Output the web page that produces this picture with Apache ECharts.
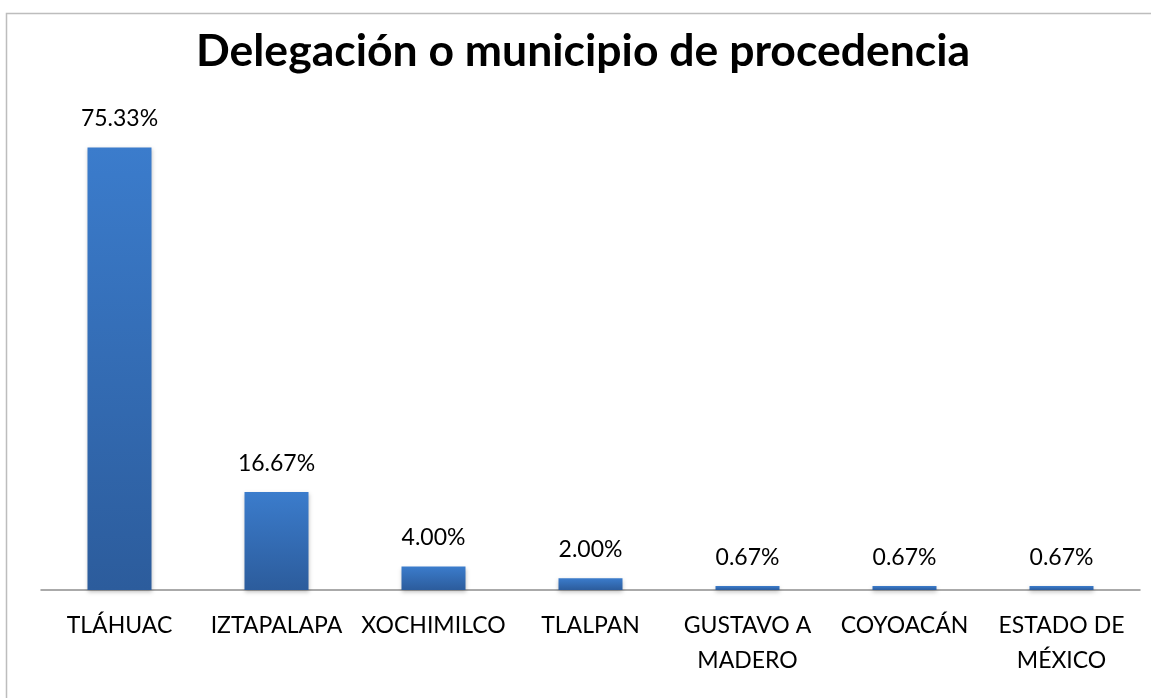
<!DOCTYPE html>
<html>
<head>
<meta charset="utf-8">
<script src="https://cdn.jsdelivr.net/npm/echarts@6/dist/echarts.min.js"></script>
<style>
  html, body { margin: 0; padding: 0; background: #fff; }
  #chart { width: 1151px; height: 698px; }
</style>
</head>
<body>
<div id="chart"></div>
<script>
const categories = ["TLÁHUAC", "IZTAPALAPA", "XOCHIMILCO", "TLALPAN", "GUSTAVO A\nMADERO", "COYOACÁN", "ESTADO DE\nMÉXICO"]
const percentages = [75.33, 16.67, 4.00, 2.00, 0.67, 0.67, 0.67]

const chart = echarts.init(document.getElementById("chart"))

chart.setOption({
  animation: false,
  title: {
    text: "Delegación o municipio de procedencia",
    left: 196,
    top: 29,
    padding: 0,
    textStyle: { fontFamily: "Lato", fontWeight: "bold", fontSize: 44.5, color: "#000" }
  },
  graphic: [
    {
      type: "rect",
      shape: { x: 6.5, y: 13.5, width: 1160, height: 700 },
      style: { fill: "none", stroke: "#bdbdbd", lineWidth: 1.5 },
      silent: true
    }
  ],
  grid: { left: 41, right: 11, top: 120, bottom: 108 },
  xAxis: {
    type: "category",
    data: categories,
    axisLine: { lineStyle: { color: "#8f8f8f", width: 1.5 } },
    axisTick: { show: false },
    axisLabel: {
      interval: 0,
      margin: 18,
      fontFamily: "Lato",
      fontSize: 23,
      lineHeight: 35,
      color: "#000",
      verticalAlign: "top"
    }
  },
  yAxis: {
    type: "value",
    min: 0,
    max: 80,
    show: false,
    splitLine: { show: false }
  },
  series: [
    {
      type: "bar",
      data: percentages,
      barWidth: 64,
      itemStyle: {
        color: new echarts.graphic.LinearGradient(0, 0, 0, 1, [
          { offset: 0, color: "#3b7ccc" },
          { offset: 1, color: "#2c5c9c" }
        ]),
        shadowColor: "rgba(0,0,0,0.25)",
        shadowBlur: 4,
        shadowOffsetY: 2
      },
      label: {
        show: true,
        position: "top",
        distance: 17,
        fontFamily: "Lato",
        fontSize: 23,
        color: "#000",
        formatter: p => p.value.toFixed(2) + "%"
      }
    }
  ]
})
</script>
</body>
</html>
